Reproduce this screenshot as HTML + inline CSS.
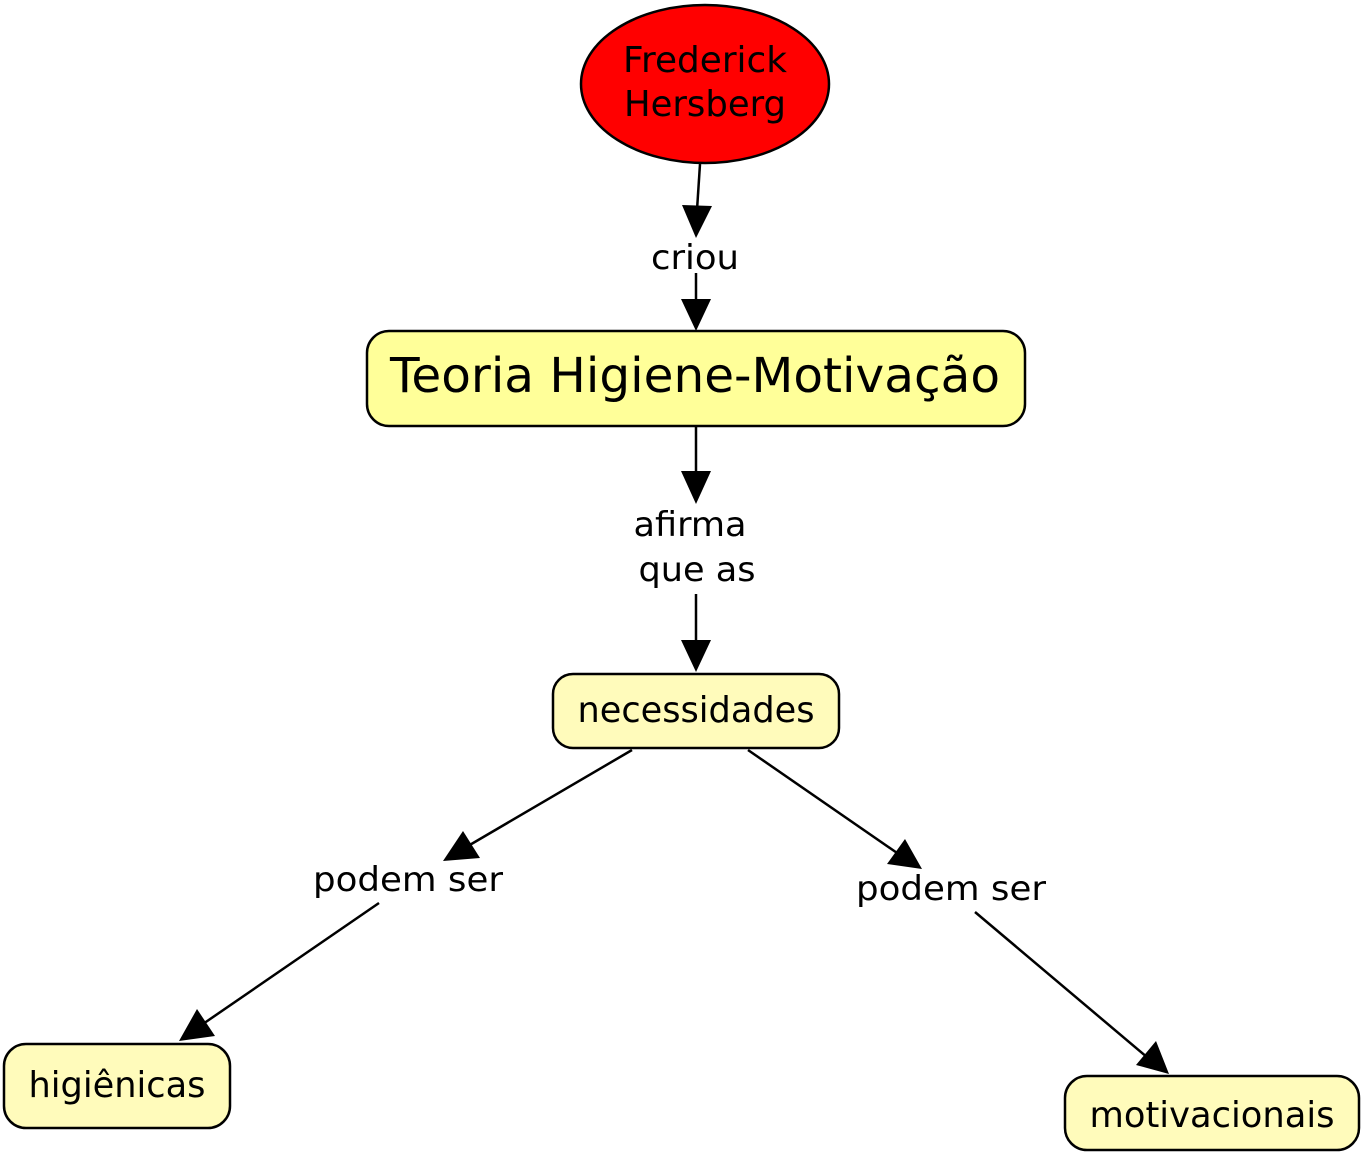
<!DOCTYPE html>
<html>
<head>
<meta charset="utf-8">
<style>
  html, body { margin: 0; padding: 0; background: #ffffff; }
  body { width: 1365px; height: 1155px; overflow: hidden; }
  svg { display: block; }
  text { font-family: "DejaVu Sans", "Liberation Sans", sans-serif; fill: #000; }
</style>
</head>
<body>
<svg width="1365" height="1155" viewBox="0 0 1365 1155" xmlns="http://www.w3.org/2000/svg">
  <rect x="0" y="0" width="1365" height="1155" fill="#ffffff"/>

  <!-- Connectors -->
  <g stroke="#000" stroke-width="2.5" fill="none">
    <line x1="700" y1="164" x2="697" y2="210"/>
    <line x1="696" y1="273" x2="696" y2="302"/>
    <line x1="696" y1="427" x2="696" y2="474"/>
    <line x1="696" y1="594" x2="696" y2="642"/>
    <line x1="632" y1="750" x2="468" y2="846"/>
    <line x1="379" y1="903" x2="200" y2="1026"/>
    <line x1="748" y1="750" x2="900" y2="855"/>
    <line x1="975" y1="912" x2="1148" y2="1058"/>
  </g>

  <!-- Arrowheads -->
  <g fill="#000" stroke="none">
    <polygon points="682,205 712,206 696,238"/>
    <polygon points="681,299 711,299 696,331"/>
    <polygon points="681,471 711,471 696,504"/>
    <polygon points="681,640 711,640 696,672"/>
    <polygon points="463,831 480,858 443,861"/>
    <polygon points="197,1009 215,1036 179,1041"/>
    <polygon points="905,839 887,864 922,869"/>
    <polygon points="1156,1041 1136,1065 1169,1074"/>
  </g>

  <!-- Frederick Hersberg ellipse -->
  <ellipse cx="705" cy="84" rx="124" ry="79" fill="#ff0000" stroke="#000" stroke-width="2.5"/>
  <text x="705" y="72" font-size="36" text-anchor="middle" textLength="164" lengthAdjust="spacingAndGlyphs">Frederick</text>
  <text x="705" y="116" font-size="36" text-anchor="middle" textLength="162" lengthAdjust="spacingAndGlyphs">Hersberg</text>

  <!-- criou -->
  <text x="695" y="269" font-size="34" text-anchor="middle" textLength="88" lengthAdjust="spacingAndGlyphs">criou</text>

  <!-- Teoria box -->
  <rect x="367" y="331" width="658" height="95" rx="22" ry="22" fill="#ffff99" stroke="#000" stroke-width="2.5"/>
  <text x="695" y="392" font-size="48" text-anchor="middle" textLength="610" lengthAdjust="spacingAndGlyphs">Teoria Higiene-Motivação</text>

  <!-- afirma que as -->
  <text x="690" y="536" font-size="34" text-anchor="middle" textLength="113" lengthAdjust="spacingAndGlyphs">afirma</text>
  <text x="697" y="581" font-size="34" text-anchor="middle" textLength="117" lengthAdjust="spacingAndGlyphs">que as</text>

  <!-- necessidades box -->
  <rect x="553" y="674" width="286" height="74" rx="20" ry="20" fill="#fffbbb" stroke="#000" stroke-width="2.5"/>
  <text x="696" y="722" font-size="36" text-anchor="middle" textLength="237" lengthAdjust="spacingAndGlyphs">necessidades</text>

  <!-- podem ser (left) -->
  <text x="408" y="891" font-size="34" text-anchor="middle" textLength="190" lengthAdjust="spacingAndGlyphs">podem ser</text>

  <!-- podem ser (right) -->
  <text x="951" y="900" font-size="34" text-anchor="middle" textLength="190" lengthAdjust="spacingAndGlyphs">podem ser</text>

  <!-- higiênicas box -->
  <rect x="4" y="1044" width="226" height="84" rx="22" ry="22" fill="#fffbbb" stroke="#000" stroke-width="2.5"/>
  <text x="117" y="1097" font-size="36" text-anchor="middle" textLength="177" lengthAdjust="spacingAndGlyphs">higiênicas</text>

  <!-- motivacionais box -->
  <rect x="1065" y="1076" width="294" height="74" rx="22" ry="22" fill="#fffbbb" stroke="#000" stroke-width="2.5"/>
  <text x="1212" y="1127" font-size="36" text-anchor="middle" textLength="245" lengthAdjust="spacingAndGlyphs">motivacionais</text>
</svg>
</body>
</html>
